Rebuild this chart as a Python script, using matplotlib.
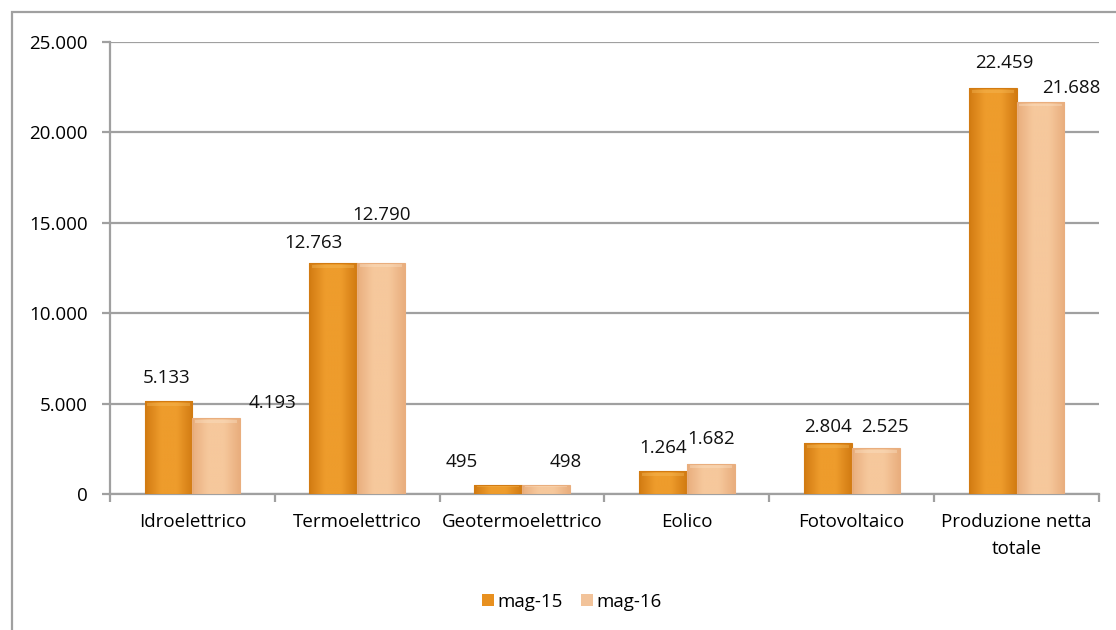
import numpy as np
import matplotlib
matplotlib.use("Agg")
import matplotlib.pyplot as plt
from matplotlib.patches import Rectangle
from matplotlib.colors import LinearSegmentedColormap

plt.rcParams['font.family'] = ['Open Sans', 'DejaVu Sans']

categories = ["Idroelettrico", "Termoelettrico", "Geotermoelettrico",
              "Eolico", "Fotovoltaico", "Produzione netta\ntotale"]
series_names = ["mag-15", "mag-16"]
mag15 = [5133, 12763, 495, 1264, 2804, 22459]
mag16 = [4193, 12790, 498, 1682, 2525, 21688]
yticks = [0, 5000, 10000, 15000, 20000, 25000]
ytick_labels = ["0", "5.000", "10.000", "15.000", "20.000", "25.000"]

# label offsets (pixels) relative to the top centre of each bar
off15 = [(-2, 23), (-20, 20), (-36, 23), (0, 23), (0, 16), (12, 25)]
off16 = [(56, 15), (0, 48), (20, 23), (0, 25), (9, 21), (31, 14)]

W, H = 1116, 630
FS = 13.5
fig = plt.figure(figsize=(W / 100, H / 100), dpi=100)
ax = fig.add_axes([110 / W, 1 - 494 / H, (1099 - 110) / W, (494 - 42) / H])

grid_col = "#A0A0A0"
bar_w = 0.29
x = np.arange(len(categories))


def grad_bar(ax, xc, h, edge, mid, top):
    """Bar with a horizontal shading plus a light cap, for a bevelled look."""
    cmap = LinearSegmentedColormap.from_list("b", [edge, mid, mid, edge])
    x0, x1 = xc - bar_w / 2, xc + bar_w / 2
    g = np.linspace(0, 1, 64).reshape(1, -1)
    im = ax.imshow(g, cmap=cmap, aspect="auto", extent=[x0, x1, 0, h],
                   origin="lower", zorder=3, interpolation="bicubic")
    r = Rectangle((x0, 0), bar_w, h, facecolor="none", edgecolor="none", zorder=3)
    ax.add_patch(r)
    im.set_clip_path(r)
    # light cap along the top of the bar
    cap = min(h * 0.25, 300)
    ax.add_patch(Rectangle((x0 + bar_w * 0.06, h - cap * 0.85), bar_w * 0.88, cap * 0.55,
                           facecolor=top, edgecolor="none", alpha=0.35, zorder=4))
    ax.add_patch(Rectangle((x0, 0), bar_w, h, facecolor="none",
                           edgecolor=edge, linewidth=0.8, zorder=5))


for i in range(len(categories)):
    grad_bar(ax, x[i] - bar_w / 2, mag15[i], "#D27B12", "#EE9C2C", "#F8C060")
    grad_bar(ax, x[i] + bar_w / 2, mag16[i], "#E9AE7E", "#F6C89C", "#FCE6CC")
    ax.annotate(f"{mag15[i]:,}".replace(",", "."), (x[i] - bar_w / 2, mag15[i]),
                xytext=off15[i], textcoords="offset pixels",
                ha="center", va="center", fontsize=FS, color="#111111", zorder=6)
    ax.annotate(f"{mag16[i]:,}".replace(",", "."), (x[i] + bar_w / 2, mag16[i]),
                xytext=off16[i], textcoords="offset pixels",
                ha="center", va="center", fontsize=FS, color="#111111", zorder=6)

ax.set_xlim(-0.5, len(categories) - 0.5)
ax.set_ylim(0, 25000)
ax.set_yticks(yticks)
ax.set_yticklabels(ytick_labels, fontsize=FS)
ax.yaxis.grid(True, color=grid_col, linewidth=1.6, zorder=0)
ax.set_axisbelow(True)

ax.set_xticks(x)
ax.set_xticklabels(categories, fontsize=FS, linespacing=1.6)
ax.set_xticks(np.arange(-0.5, len(categories)), minor=True)
ax.tick_params(axis="x", which="major", length=0, pad=14)
ax.tick_params(axis="x", which="minor", length=6, width=1.6, color=grid_col, direction="out")
ax.tick_params(axis="y", length=6, width=1.6, color=grid_col, pad=10)

for s in ["top", "right"]:
    ax.spines[s].set_visible(False)
for s in ["left", "bottom"]:
    ax.spines[s].set_color(grid_col)
    ax.spines[s].set_linewidth(1.6)

# legend
handles = [Rectangle((0, 0), 1, 1, facecolor="#E8901F", edgecolor="none"),
           Rectangle((0, 0), 1, 1, facecolor="#F2C39A", edgecolor="none")]
fig.legend(handles, series_names, loc="center", bbox_to_anchor=(572 / W, 1 - 602 / H),
           ncol=2, frameon=False, fontsize=FS, handlelength=0.6, handleheight=0.6,
           handletextpad=0.2, columnspacing=1.0)

# outer chart border
fig.patches.append(Rectangle((12 / W, -0.1), 1.2, 1 - 12 / H + 0.1,
                             transform=fig.transFigure, facecolor="none",
                             edgecolor=grid_col, linewidth=1.6))

fig.savefig("out.png", dpi=100, facecolor="white")
